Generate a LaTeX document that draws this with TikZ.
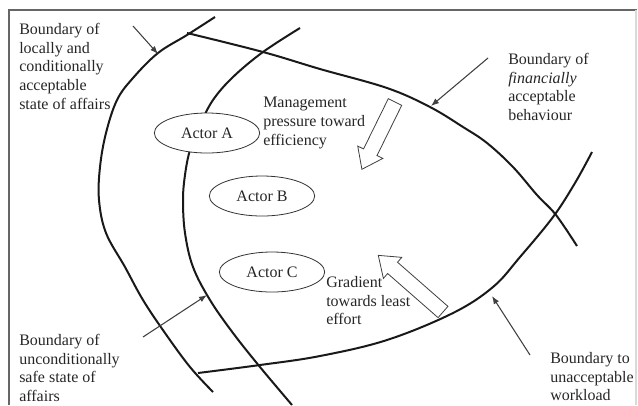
\documentclass[tikz,border=0pt]{standalone}
\usepackage{fontspec}
\setmainfont{Liberation Serif}
\usetikzlibrary{arrows.meta,shapes.geometric}

\tikzset{
  bound/.style={line width=1.5pt, black!90},
  pointer/.style={-{Latex[length=6pt,width=4.5pt]}, line width=0.8pt, black!75},
  actor/.style={draw=black!80, ellipse, fill=white, text=black!85, line width=0.6pt,
    minimum width=79pt, minimum height=30pt, inner sep=0pt},
  note/.style={anchor=north west, align=left, inner sep=0pt, text=black!85},
  hollow/.style={draw=black!75, line width=0.6pt, fill=white},
  pics/bigarrow/.style={code={
    \draw[hollow] (0,-7.5) -- (#1-19,-7.5) -- (#1-19,-14) -- (#1,0)
      -- (#1-19,14) -- (#1-19,7.5) -- (0,7.5) -- cycle;
  }}
}

\begin{document}
\begin{tikzpicture}[x=0.75pt, y=-0.75pt, font=\fontsize{12pt}{14pt}\selectfont]
  \useasboundingbox (0,0) rectangle (638,405);
  % frame
  \draw[black!60, line width=1pt] (9,405) -- (9,10) -- (637,10);
  \draw[black!15, line width=0.8pt] (636,10) -- (636,405);

  % boundaries
  \draw[bound] plot[smooth, tension=0.6] coordinates {(215,17) (187,35) (158,53)
    (133,78) (117,100) (106,133) (100,167) (99,200) (106,233) (125,267)
    (143,300) (165,333) (190,367) (213,392)};
  \draw[bound] plot[smooth, tension=0.6] coordinates {(300,28) (263,52) (233,77)
    (213,100) (200,125) (190,150) (185,175) (183,200) (185,233) (193,267)
    (210,300) (233,333) (260,367) (292,405)};
  \draw[bound] plot[smooth, tension=0.6] coordinates {(187,33) (263,52) (320,69)
    (387,88) (430,107) (463,127) (487,143) (513,167) (537,195) (556,215) (577,246)};
  \draw[bound] plot[smooth, tension=0.6] coordinates {(198,373) (260,365) (320,356)
    (387,340) (453,313) (493,287) (520,257) (553,217) (575,183) (592,152)};

  % actors
  \node[actor] (actorA) at (207,133) {Actor A};
  \node[actor] (actorB) at (262,196) {Actor B};
  \node[actor] (actorC) at (272,272) {Actor C};

  % texts
  \node[note] (local) at (19,23) {Boundary of\\locally and\\conditionally\\acceptable\\state of affairs};
  \node[note] (financial) at (508,53) {Boundary of\\\textit{financially}\\acceptable\\behaviour};
  \node[note] (pressure) at (263,97) {Management\\pressure toward\\efficiency};
  \node[note] (gradient) at (326,276) {Gradient\\towards least\\effort};
  \node[note] (safe) at (19,334) {Boundary of\\unconditionally\\safe state of\\affairs};
  \node[note] (workload) at (550,352) {Boundary to\\unacceptable\\workload};

  % pointers
  \coordinate (localT) at (133,26);   \coordinate (localH) at (158,54);
  \coordinate (finT) at (488,58);     \coordinate (finH) at (431,106);
  \coordinate (safeT) at (143,337);   \coordinate (safeH) at (207,295);
  \coordinate (workT) at (530,355);   \coordinate (workH) at (492,296);
  \draw[pointer] (localT) -- (localH);
  \draw[pointer] (finT) -- (finH);
  \draw[pointer] (safeT) -- (safeH);
  \draw[pointer] (workT) -- (workH);

  % big hollow arrows
  \pic[rotate=243.8] at (395,102) {bigarrow=75};
  \pic[rotate=138.8] at (443,312) {bigarrow=86};
\end{tikzpicture}
\end{document}
